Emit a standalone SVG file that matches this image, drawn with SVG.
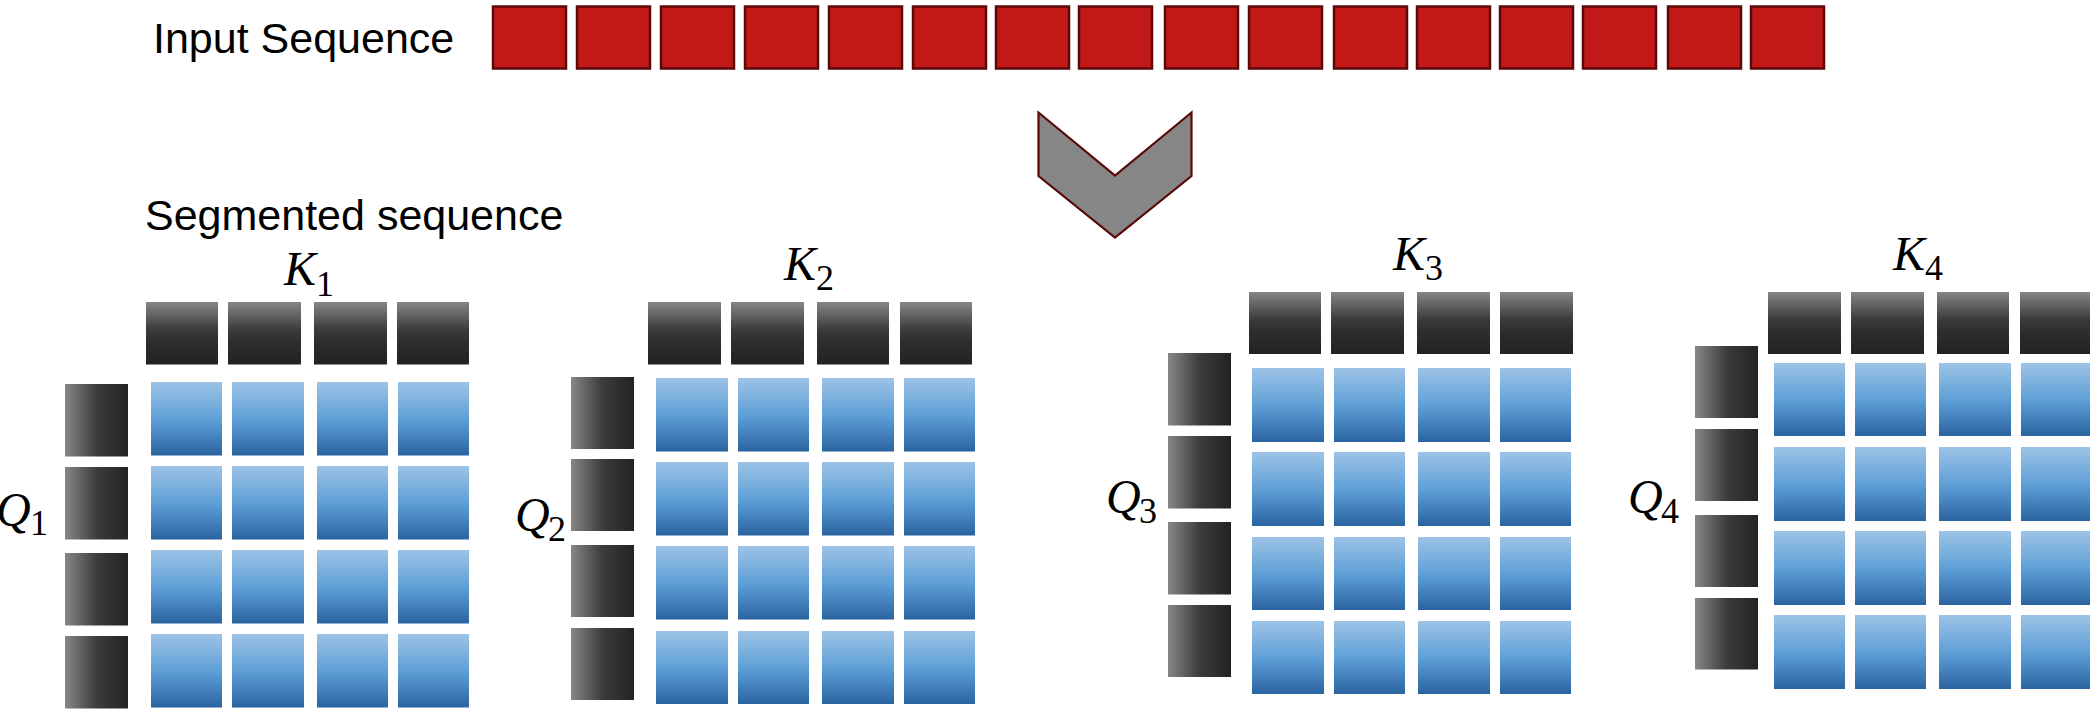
<svg xmlns="http://www.w3.org/2000/svg" width="2090" height="709" viewBox="0 0 2090 709">
<defs>
<linearGradient id="gk" x1="0" y1="0" x2="0" y2="1">
<stop offset="0" stop-color="#868686"/><stop offset="0.45" stop-color="#3a3a3a"/><stop offset="0.65" stop-color="#2d2d2d"/><stop offset="1" stop-color="#222"/>
</linearGradient>
<linearGradient id="gq" x1="0" y1="0" x2="1" y2="0">
<stop offset="0" stop-color="#878787"/><stop offset="0.5" stop-color="#3c3c3c"/><stop offset="1" stop-color="#232323"/>
</linearGradient>
<linearGradient id="gb" x1="0" y1="0" x2="0" y2="1">
<stop offset="0" stop-color="#9DC3E6"/><stop offset="0.5" stop-color="#5FA0D7"/><stop offset="1" stop-color="#2A64A0"/>
</linearGradient>
</defs>
<style>
.lbl{font-family:"Liberation Sans",Arial,sans-serif;font-size:43px;fill:#000}
.mi{font-family:"Liberation Serif","DejaVu Serif",serif;font-style:italic;font-size:48px;fill:#000}
.sub{font-family:"Liberation Serif","DejaVu Serif",serif;font-style:normal;font-size:36px}
.r{fill:#C21818;stroke:#5A0808;stroke-width:2.5}
.k{fill:url(#gk)}
.q{fill:url(#gq)}
.b{fill:url(#gb)}
</style>
<rect width="2090" height="709" fill="#fff"/>

<g id="input-label"><text class="lbl" x="153" y="53">Input Sequence</text></g>
<g id="input-sequence">
<rect class="r" x="493" y="6.5" width="73" height="62"/>
<rect class="r" x="577" y="6.5" width="73" height="62"/>
<rect class="r" x="661" y="6.5" width="73" height="62"/>
<rect class="r" x="745" y="6.5" width="73" height="62"/>
<rect class="r" x="829" y="6.5" width="73" height="62"/>
<rect class="r" x="913" y="6.5" width="73" height="62"/>
<rect class="r" x="996" y="6.5" width="73" height="62"/>
<rect class="r" x="1079" y="6.5" width="73" height="62"/>
<rect class="r" x="1165" y="6.5" width="73" height="62"/>
<rect class="r" x="1249" y="6.5" width="73" height="62"/>
<rect class="r" x="1334" y="6.5" width="73" height="62"/>
<rect class="r" x="1417" y="6.5" width="73" height="62"/>
<rect class="r" x="1500" y="6.5" width="73" height="62"/>
<rect class="r" x="1583" y="6.5" width="73" height="62"/>
<rect class="r" x="1668" y="6.5" width="73" height="62"/>
<rect class="r" x="1751" y="6.5" width="73" height="62"/>
</g>

<g id="connectors">
<polygon points="1038.5,112.5 1115,175.5 1191.5,112.5 1191.5,176 1115,237.5 1038.5,176" fill="#868686" stroke="#5A0808" stroke-width="2.2" stroke-linejoin="miter"/>
</g>

<g id="segmented-label"><text class="lbl" x="145" y="230">Segmented sequence</text></g>

<g id="panel1">
<text class="mi" x="284" y="285">K<tspan class="sub" x="316" y="296">1</tspan></text>
<text class="mi" x="-4" y="526">Q<tspan class="sub" x="30" y="535">1</tspan></text>
<rect class="k" x="146" y="302" width="72" height="62.5"/>
<rect class="k" x="228" y="302" width="73" height="62.5"/>
<rect class="k" x="314" y="302" width="73" height="62.5"/>
<rect class="k" x="397" y="302" width="72" height="62.5"/>
<rect class="q" x="65" y="384" width="63" height="72.5"/>
<rect class="q" x="65" y="467" width="63" height="72.5"/>
<rect class="q" x="65" y="553" width="63" height="72.5"/>
<rect class="q" x="65" y="636" width="63" height="72.5"/>
<g>
<rect class="b" x="151" y="382" width="71" height="73.5"/><rect class="b" x="232" y="382" width="72" height="73.5"/><rect class="b" x="317" y="382" width="71" height="73.5"/><rect class="b" x="398" y="382" width="71" height="73.5"/>
<rect class="b" x="151" y="466" width="71" height="73.5"/><rect class="b" x="232" y="466" width="72" height="73.5"/><rect class="b" x="317" y="466" width="71" height="73.5"/><rect class="b" x="398" y="466" width="71" height="73.5"/>
<rect class="b" x="151" y="550" width="71" height="73.5"/><rect class="b" x="232" y="550" width="72" height="73.5"/><rect class="b" x="317" y="550" width="71" height="73.5"/><rect class="b" x="398" y="550" width="71" height="73.5"/>
<rect class="b" x="151" y="634" width="71" height="73.5"/><rect class="b" x="232" y="634" width="72" height="73.5"/><rect class="b" x="317" y="634" width="71" height="73.5"/><rect class="b" x="398" y="634" width="71" height="73.5"/>
</g>
</g>

<g id="panel2">
<text class="mi" x="784" y="280">K<tspan class="sub" x="816" y="290">2</tspan></text>
<text class="mi" x="515" y="531">Q<tspan class="sub" x="548" y="541">2</tspan></text>
<rect class="k" x="648" y="302" width="73" height="62.5"/>
<rect class="k" x="731" y="302" width="73" height="62.5"/>
<rect class="k" x="817" y="302" width="72" height="62.5"/>
<rect class="k" x="900" y="302" width="72" height="62.5"/>
<rect class="q" x="571" y="377" width="63" height="72"/>
<rect class="q" x="571" y="459" width="63" height="72"/>
<rect class="q" x="571" y="545" width="63" height="72"/>
<rect class="q" x="571" y="628" width="63" height="72"/>
<g>
<rect class="b" x="656" y="378" width="72" height="73.5"/><rect class="b" x="738" y="378" width="71" height="73.5"/><rect class="b" x="822" y="378" width="72" height="73.5"/><rect class="b" x="904" y="378" width="71" height="73.5"/>
<rect class="b" x="656" y="462" width="72" height="73.5"/><rect class="b" x="738" y="462" width="71" height="73.5"/><rect class="b" x="822" y="462" width="72" height="73.5"/><rect class="b" x="904" y="462" width="71" height="73.5"/>
<rect class="b" x="656" y="546" width="72" height="73.5"/><rect class="b" x="738" y="546" width="71" height="73.5"/><rect class="b" x="822" y="546" width="72" height="73.5"/><rect class="b" x="904" y="546" width="71" height="73.5"/>
<rect class="b" x="656" y="631" width="72" height="73"/><rect class="b" x="738" y="631" width="71" height="73"/><rect class="b" x="822" y="631" width="72" height="73"/><rect class="b" x="904" y="631" width="71" height="73"/>
</g>
</g>

<g id="panel3">
<text class="mi" x="1393" y="270">K<tspan class="sub" x="1425" y="280">3</tspan></text>
<text class="mi" x="1106" y="513">Q<tspan class="sub" x="1139" y="523">3</tspan></text>
<rect class="k" x="1249" y="292" width="72" height="62"/>
<rect class="k" x="1331" y="292" width="73" height="62"/>
<rect class="k" x="1417" y="292" width="73" height="62"/>
<rect class="k" x="1500" y="292" width="73" height="62"/>
<rect class="q" x="1168" y="353" width="63" height="72.5"/>
<rect class="q" x="1168" y="436" width="63" height="72.5"/>
<rect class="q" x="1168" y="522" width="63" height="72.5"/>
<rect class="q" x="1168" y="605" width="63" height="72"/>
<g>
<rect class="b" x="1252" y="368" width="72" height="74"/><rect class="b" x="1334" y="368" width="71" height="74"/><rect class="b" x="1418" y="368" width="72" height="74"/><rect class="b" x="1500" y="368" width="71" height="74"/>
<rect class="b" x="1252" y="452" width="72" height="74"/><rect class="b" x="1334" y="452" width="71" height="74"/><rect class="b" x="1418" y="452" width="72" height="74"/><rect class="b" x="1500" y="452" width="71" height="74"/>
<rect class="b" x="1252" y="537" width="72" height="73"/><rect class="b" x="1334" y="537" width="71" height="73"/><rect class="b" x="1418" y="537" width="72" height="73"/><rect class="b" x="1500" y="537" width="71" height="73"/>
<rect class="b" x="1252" y="621" width="72" height="73"/><rect class="b" x="1334" y="621" width="71" height="73"/><rect class="b" x="1418" y="621" width="72" height="73"/><rect class="b" x="1500" y="621" width="71" height="73"/>
</g>
</g>

<g id="panel4">
<text class="mi" x="1893" y="270">K<tspan class="sub" x="1925" y="280">4</tspan></text>
<text class="mi" x="1628" y="513">Q<tspan class="sub" x="1661" y="523">4</tspan></text>
<rect class="k" x="1768" y="292" width="73" height="62"/>
<rect class="k" x="1851" y="292" width="73" height="62"/>
<rect class="k" x="1937" y="292" width="72" height="62"/>
<rect class="k" x="2020" y="292" width="73" height="62"/>
<rect class="q" x="1695" y="346" width="63" height="72"/>
<rect class="q" x="1695" y="429" width="63" height="72"/>
<rect class="q" x="1695" y="515" width="63" height="72"/>
<rect class="q" x="1695" y="598" width="63" height="71.5"/>
<g>
<rect class="b" x="1774" y="363" width="71" height="73"/><rect class="b" x="1855" y="363" width="71" height="73"/><rect class="b" x="1939" y="363" width="72" height="73"/><rect class="b" x="2021" y="363" width="72" height="73"/>
<rect class="b" x="1774" y="447" width="71" height="74"/><rect class="b" x="1855" y="447" width="71" height="74"/><rect class="b" x="1939" y="447" width="72" height="74"/><rect class="b" x="2021" y="447" width="72" height="74"/>
<rect class="b" x="1774" y="531" width="71" height="74"/><rect class="b" x="1855" y="531" width="71" height="74"/><rect class="b" x="1939" y="531" width="72" height="74"/><rect class="b" x="2021" y="531" width="72" height="74"/>
<rect class="b" x="1774" y="615" width="71" height="74"/><rect class="b" x="1855" y="615" width="71" height="74"/><rect class="b" x="1939" y="615" width="72" height="74"/><rect class="b" x="2021" y="615" width="72" height="74"/>
</g>
</g>
</svg>
